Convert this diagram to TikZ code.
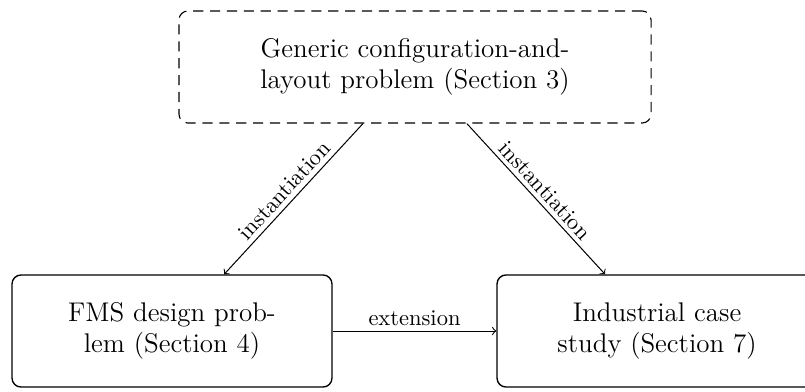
\documentclass[tikz,border=0pt]{standalone}
\begin{document}
\begin{tikzpicture}[x=0.4444pt,y=-0.4444pt,
  box/.style={draw, rounded corners=4pt, minimum width=142.2pt, minimum height=49.8pt, align=center, font=\large, line width=0.6pt},
  topbox/.style={box, minimum width=209.8pt, dash pattern=on 4.5pt off 3pt, line width=0.5pt},
  conn/.style={->, line width=0.45pt},
  lab/.style={font=\normalsize, inner sep=2pt}]
\clip (0,0) rectangle (805,391);
\node[topbox] (top) at (415,67) {Generic configuration-and-\\layout problem (Section 3)};
\node[box] (fms) at (172,331) {FMS design prob-\\lem (Section 4)};
\node[box] (ind) at (657,331) {Industrial case\\study (Section 7)};
\draw[conn] (top) -- node[lab, above, sloped] {instantiation} (fms);
\draw[conn] (top) -- node[lab, above, sloped] {instantiation} (ind);
\draw[conn] (fms) -- node[lab, above] {extension} (ind);
\end{tikzpicture}
\end{document}
